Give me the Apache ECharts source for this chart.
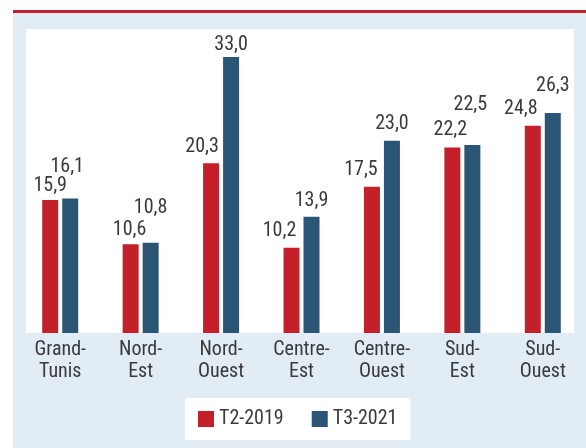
<!DOCTYPE html>
<html>
<head>
<meta charset="utf-8">
<script src="https://cdn.jsdelivr.net/npm/echarts@6/dist/echarts.min.js"></script>
<style>
  html, body { margin: 0; padding: 0; background: #fff; }
  #chart { width: 586px; height: 448px; }
</style>
</head>
<body>
<div id="chart"></div>
<script>
// categories (two-line labels) and values
const categories = ['Grand-\nTunis', 'Nord-\nEst', 'Nord-\nOuest', 'Centre-\nEst', 'Centre-\nOuest', 'Sud-\nEst', 'Sud-\nOuest']
const t2019 = [15.9, 10.6, 20.3, 10.2, 17.5, 22.2, 24.8]
const t2021 = [16.1, 10.8, 33.0, 13.9, 23.0, 22.5, 26.3]

// label nudges [dx, dy] so the values don't collide (like the original)
const shift2019 = [[0, -4], [-1, -4], [-9, -6], [-12, -7], [-11, -7], [-2, -7], [-12, -7]]
const shift2021 = [[-3, -21], [0, -25], [0, -2], [0, -6], [0, -7], [-2, -30], [0, -17]]

const font = "'Liberation Sans Narrow', 'Roboto Condensed', 'Liberation Sans', sans-serif"
const textColor = '#3a3a3a'
const red = '#c4202a'
const blue = '#2a5575'

function withLabels(values, shifts) {
  return values.map(function(v, i) {
    return { value: v, label: { offset: shifts[i] } }
  })
}

const chart = echarts.init(document.getElementById('chart'))
chart.setOption({
  animation: false,
  textStyle: { fontFamily: font },
  graphic: [
    { type: 'rect', shape: { x: 13, y: 13, width: 573, height: 435 }, style: { fill: '#e1ecf5' }, z: -10 },
    { type: 'rect', shape: { x: 13, y: 10, width: 573, height: 3 }, style: { fill: '#c4202a' }, z: -10 },
    { type: 'rect', shape: { x: 26, y: 29, width: 548, height: 304 }, style: { fill: '#ffffff' }, z: -9 }
  ],
  legend: {
    left: 185,
    top: 398,
    padding: [11, 13, 11, 13],
    backgroundColor: '#ffffff',
    itemWidth: 16,
    itemHeight: 16,
    itemGap: 28,
    icon: 'rect',
    selectedMode: false,
    textStyle: { color: textColor, fontSize: 20, fontFamily: font }
  },
  grid: {
    left: 20,
    right: 3,
    top: 32,
    bottom: 115
  },
  xAxis: {
    type: 'category',
    data: categories,
    axisLine: { show: false },
    axisTick: { show: false },
    axisLabel: {
      color: textColor,
      fontSize: 20,
      lineHeight: 22,
      margin: 6,
      fontFamily: font
    }
  },
  yAxis: {
    type: 'value',
    min: 0,
    max: 36,
    show: false,
    splitLine: { show: false }
  },
  series: [
    {
      name: 'T2-2019',
      type: 'bar',
      barWidth: 16,
      barGap: '25%',
      itemStyle: { color: red },
      label: {
        show: true,
        position: 'top',
        distance: 0,
        color: textColor,
        fontSize: 20,
        fontFamily: font,
        formatter: function(p) { return p.value.toFixed(1).replace('.', ',') }
      },
      data: withLabels(t2019, shift2019)
    },
    {
      name: 'T3-2021',
      type: 'bar',
      barWidth: 16,
      itemStyle: { color: blue },
      label: {
        show: true,
        position: 'top',
        distance: 0,
        color: textColor,
        fontSize: 20,
        fontFamily: font,
        formatter: function(p) { return p.value.toFixed(1).replace('.', ',') }
      },
      data: withLabels(t2021, shift2021)
    }
  ]
})
</script>
</body>
</html>
